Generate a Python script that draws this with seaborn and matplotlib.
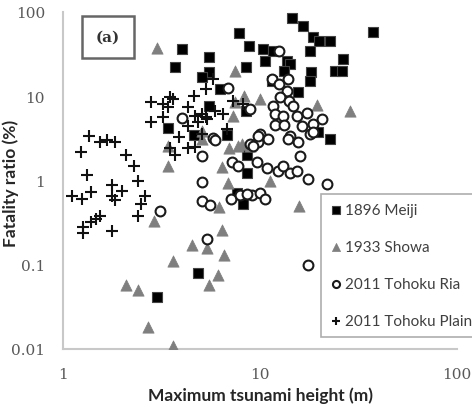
import matplotlib
matplotlib.use("Agg")
import matplotlib.pyplot as plt
import seaborn as sns
import numpy as np
import pandas as pd
from matplotlib.ticker import FixedLocator, NullFormatter, FuncFormatter

# ---------------- data ----------------
meiji_h = [14.5, 16.6, 18.6, 19.9, 22.6, 37.5, 7.8, 8.8, 10.4, 11.6, 17.9, 26.4, 10.6, 13.7,
           14.2, 8.5, 24.0, 26.0, 13.2, 18.2, 17.9, 11.5, 15.6, 8.5, 19.7, 22.6, 4.0, 5.5,
           3.7, 5.5, 5.1, 6.3, 5.5, 3.4, 4.6, 6.8, 8.6, 8.6, 7.6, 8.2, 4.85, 3.0]
meiji_r = [85, 68, 51, 45, 45, 58, 56, 39, 36, 34, 34, 28, 26, 26,
           24, 22.4, 20, 20, 20, 19.5, 15, 15, 11.3, 6.7, 3.8, 3.1, 36, 29.4,
           22, 19.5, 17, 12.2, 7.7, 4.2, 3.5, 3.5, 2.0, 1.24, 0.71, 0.52, 0.08, 0.041]

showa_h = [3.0, 7.5, 8.3, 10.0, 19.5, 28.6, 7.5, 7.3, 5.1, 8.1, 8.9, 7.0, 3.4, 5.1,
           3.4, 2.9, 6.4, 6.9, 7.7, 6.2, 6.4, 4.5, 5.4, 6.6, 11.2, 15.7, 3.6, 6.1,
           5.5, 2.1, 2.4, 2.7, 3.6]
showa_r = [37, 20, 10, 9.3, 7.9, 6.6, 8.6, 5.8, 3.9, 2.7, 2.6, 2.45, 2.6, 3.1,
           1.5, 0.33, 1.45, 0.93, 2.6, 0.49, 0.26, 0.17, 0.157, 0.13, 1.0, 0.5, 0.11, 0.075,
           0.058, 0.058, 0.05, 0.018, 0.011]

ria_h = [12.5, 6.9, 4.0, 5.8, 8.9, 11.5, 12.5, 13.9, 13.7, 12.6, 14.0, 11.6, 14.7, 11.9,
         13.1, 11.9, 13.2, 10.0, 14.2, 15.4, 17.3, 18.6, 17.9, 16.3, 11.0, 9.8, 5.9, 5.1,
         8.9, 16.0, 20.6, 13.9, 15.6, 7.2, 7.7, 9.7, 10.9, 12.3, 13.1, 14.2, 15.4, 17.5,
         21.8, 5.1, 5.1, 5.6, 7.1, 7.9, 9.1, 10.0, 10.6, 8.6, 3.1, 5.4, 17.5, 9.2, 9.8, 18.6]
ria_r = [34.5, 12.6, 5.5, 3.2, 7.1, 16.2, 14.1, 16.2, 11.6, 9.9, 8.8, 7.7, 7.7, 6.2,
         5.9, 4.6, 4.6, 3.6, 3.4, 5.9, 6.4, 4.7, 3.6, 4.4, 3.1, 2.9, 3.05, 1.98,
         2.7, 1.98, 5.4, 3.1, 2.9, 1.68, 1.5, 1.68, 1.41, 1.29, 1.5, 1.24, 1.3, 1.03,
         0.92, 0.97, 0.57, 0.51, 0.61, 0.67, 0.67, 0.72, 0.61, 0.7, 0.43, 0.2, 0.1, 2.6, 3.4, 3.8]

plain_h = [1.36, 1.23, 1.54, 1.67, 1.84, 2.1, 2.3, 1.32, 2.4, 1.77, 2.0, 1.11, 1.25, 1.39,
           1.77, 1.84, 2.6, 2.5, 1.26, 1.39, 1.47, 1.54, 1.26, 1.77, 2.4, 2.8, 3.4, 2.8,
           3.5, 3.7, 4.3, 3.5, 4.6, 4.3, 5.3, 5.8, 6.5, 4.7, 5.3, 5.9, 8.2, 3.6, 3.2, 5.1,
           7.3, 3.2, 4.3, 4.85, 5.4, 4.7, 6.8, 5.1, 3.9]
plain_r = [3.4, 2.2, 2.9, 3.0, 2.9, 2.0, 1.5, 1.15, 0.98, 0.89, 0.76, 0.65, 0.61, 0.74,
           0.65, 0.58, 0.66, 0.53, 0.28, 0.32, 0.35, 0.38, 0.24, 0.25, 0.38, 8.6, 7.5, 5.0,
           2.4, 2.0, 2.45, 9.9, 10.1, 7.5, 12.2, 16.2, 6.2, 5.9, 5.7, 6.6, 8.1, 9.3, 8.2, 6.2,
           8.8, 5.7, 4.45, 5.0, 5.4, 2.5, 4.1, 3.6, 3.3]

series_names = ["1896 Meiji", "1933 Showa", "2011 Tohoku Ria", "2011 Tohoku Plain"]
x_ticks = [1, 10, 100]
y_ticks = [0.01, 0.1, 1, 10, 100]

# ---------------- figure ----------------
sns.set_style("white")
plt.rcParams["font.family"] = ["Lato", "DejaVu Sans"]

fig = plt.figure(figsize=(4.72, 4.10), dpi=100)
ax = fig.add_axes([63 / 472, 1 - 350 / 410, (457 - 63) / 472, (350 - 13) / 410])

sns.scatterplot(x=meiji_h, y=meiji_r, marker="s", s=52, color="black",
                edgecolor="#444444", linewidth=0.8, ax=ax, label=series_names[0], zorder=3)
sns.scatterplot(x=showa_h, y=showa_r, marker="^", s=66, color="#7f7f7f",
                edgecolor="#7f7f7f", linewidth=0.5, ax=ax, label=series_names[1], zorder=3)
sns.scatterplot(x=ria_h, y=ria_r, marker="o", s=50, facecolor="white",
                edgecolor="#1a1a1a", linewidth=1.5, ax=ax, label=series_names[2], zorder=3)
sns.scatterplot(x=plain_h, y=plain_r, marker="+", s=64, color="#111111",
                linewidth=1.5, ax=ax, label=series_names[3], zorder=3)

ax.set_xscale("log")
ax.set_yscale("log")
ax.set_xlim(1, 100)
ax.set_ylim(0.01, 100)

fmt = FuncFormatter(lambda v, p: ("%g" % v))
ax.xaxis.set_major_locator(FixedLocator(x_ticks))
ax.yaxis.set_major_locator(FixedLocator(y_ticks))
ax.xaxis.set_major_formatter(fmt)
ax.yaxis.set_major_formatter(fmt)
ax.xaxis.set_minor_formatter(NullFormatter())
ax.yaxis.set_minor_formatter(NullFormatter())

for sp in ["top", "right"]:
    ax.spines[sp].set_visible(False)
for sp in ["left", "bottom"]:
    ax.spines[sp].set_color("#c8c8c8")
    ax.spines[sp].set_linewidth(1.5)

ax.tick_params(which="major", length=5, width=0.8, color="#c8c8c8",
               labelsize=11, labelcolor="#595959", direction="out", pad=8)
ax.tick_params(which="minor", length=3, width=0.8, color="#c8c8c8", direction="out")
ax.minorticks_on()
for lab in ax.get_xticklabels() + ax.get_yticklabels():
    lab.set_family("DejaVu Serif")

ax.set_xlabel("Maximum tsunami height (m)", fontsize=12.5, fontweight="bold",
              color="#262626", labelpad=4)
ax.set_ylabel("Fatality ratio (%)", fontsize=12.5, fontweight="bold",
              color="#262626")
ax.yaxis.set_label_coords(-0.112, 0.495)

# "(a)" panel label in a box
ax.text(108 / 472, 1 - 38 / 410, "(a)", transform=fig.transFigure, ha="center", va="center",
        fontsize=11, fontweight="bold", family="DejaVu Serif", color="#333333",
        bbox=dict(boxstyle="square,pad=0.9", facecolor="white", edgecolor="#666666",
                  linewidth=1.8), zorder=5)

leg = ax.legend(loc="upper left", bbox_to_anchor=(321 / 472, 1 - 195 / 410),
                bbox_transform=fig.transFigure, frameon=True, fancybox=False,
                fontsize=11, labelspacing=1.5, handletextpad=0.3, handlelength=0.7,
                borderpad=0.6, borderaxespad=0, markerscale=0.72)
leg.get_frame().set_edgecolor("#999999")
leg.get_frame().set_linewidth(1.2)
for t in leg.get_texts():
    t.set_color("#404040")

fig.savefig("out.png", dpi=100)
